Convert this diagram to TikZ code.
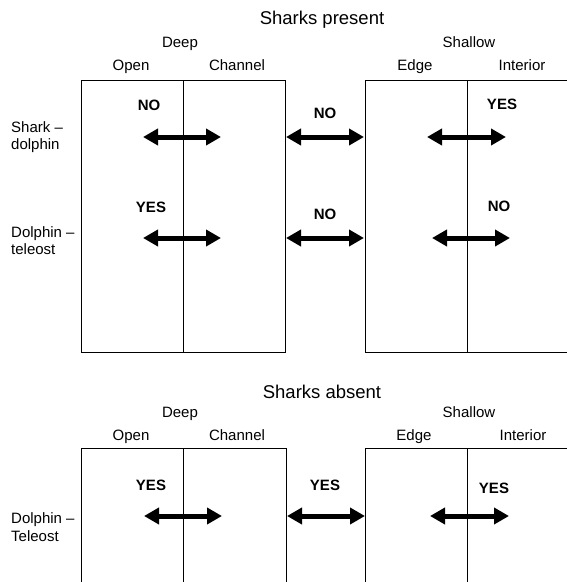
\documentclass[tikz,border=0pt]{standalone}
\usepackage{fontspec}
\setmainfont{Liberation Sans}
\usetikzlibrary{arrows.meta}
\begin{document}
\begin{tikzpicture}[x=1pt,y=-1pt,
  lbl/.style={anchor=base,inner sep=0pt,font=\fontsize{15}{17}\selectfont},
  side/.style={anchor=base west,inner sep=0pt,font=\fontsize{15}{17}\selectfont},
  ans/.style={anchor=base,inner sep=0pt,font=\fontsize{15}{17}\selectfont\bfseries},
  ttl/.style={anchor=base,inner sep=0pt,font=\fontsize{18.5}{21}\selectfont},
  boxline/.style={draw=black,line width=1pt},
  dbl/.style={line width=5pt,{Triangle[length=15pt,width=16pt]}-{Triangle[length=15pt,width=16pt]}}]
\useasboundingbox (0,0) rectangle (566,582);
\fill[white] (0,0) rectangle (566,582);
% ---------- Sharks present ----------
\node[ttl] (t1) at (322,24) {Sharks present};
\node[lbl] (deep1) at (180,47) {Deep};
\node[lbl] (shal1) at (469,47) {Shallow};
\node[lbl] (open1) at (131,70) {Open};
\node[lbl] (chan1) at (237,70) {Channel};
\node[lbl] (edge1) at (415,70) {Edge};
\node[lbl] (int1) at (522,70) {Interior};
\draw[boxline] (81,80) rectangle (285,352);
\draw[boxline] (183,80) -- (183,352);
\draw[boxline] (570,80) -- (365,80) -- (365,352) -- (570,352);
\draw[boxline] (467,80) -- (467,352);
\node[side] (sd1) at (11,132) {Shark –};
\node[side] (sd2) at (11,149) {dolphin};
\node[side] (dt1) at (11,237) {Dolphin –};
\node[side] (dt2) at (11,254) {teleost};
\node[ans] (a11) at (149,110) {NO};
\node[ans] (a12) at (325,118) {NO};
\node[ans] (a13) at (502,109) {YES};
\node[ans] (a21) at (151,212) {YES};
\node[ans] (a22) at (325,219) {NO};
\node[ans] (a23) at (499,211) {NO};
\coordinate (p11l) at (143,137); \coordinate (p11r) at (221,137);
\coordinate (p12l) at (286,137); \coordinate (p12r) at (364,137);
\coordinate (p13l) at (427,137); \coordinate (p13r) at (506,137);
\coordinate (p21l) at (143,238); \coordinate (p21r) at (221,238);
\coordinate (p22l) at (286,238); \coordinate (p22r) at (364,238);
\coordinate (p23l) at (432,238); \coordinate (p23r) at (510,238);
\draw[dbl] (p11l) -- (p11r);
\draw[dbl] (p12l) -- (p12r);
\draw[dbl] (p13l) -- (p13r);
\draw[dbl] (p21l) -- (p21r);
\draw[dbl] (p22l) -- (p22r);
\draw[dbl] (p23l) -- (p23r);
% ---------- Sharks absent ----------
\node[ttl] (t2) at (322,398) {Sharks absent};
\node[lbl] (deep2) at (180,417) {Deep};
\node[lbl] (shal2) at (469,417) {Shallow};
\node[lbl] (open2) at (131,440) {Open};
\node[lbl] (chan2) at (237,440) {Channel};
\node[lbl] (edge2) at (414,440) {Edge};
\node[lbl] (int2) at (523,440) {Interior};
\draw[boxline] (81,600) -- (81,448) -- (286,448) -- (286,600);
\draw[boxline] (183,448) -- (183,600);
\draw[boxline] (365,600) -- (365,448) -- (570,448);
\draw[boxline] (467,448) -- (467,600);
\node[side] (dT1) at (11,523) {Dolphin –};
\node[side] (dT2) at (11,541) {Teleost};
\node[ans] (b1) at (151,490) {YES};
\node[ans] (b2) at (325,490) {YES};
\node[ans] (b3) at (494,493) {YES};
\coordinate (q1l) at (144,516); \coordinate (q1r) at (222,516);
\coordinate (q2l) at (287,516); \coordinate (q2r) at (365,516);
\coordinate (q3l) at (430,516); \coordinate (q3r) at (509,516);
\draw[dbl] (q1l) -- (q1r);
\draw[dbl] (q2l) -- (q2r);
\draw[dbl] (q3l) -- (q3r);
\end{tikzpicture}
\end{document}
